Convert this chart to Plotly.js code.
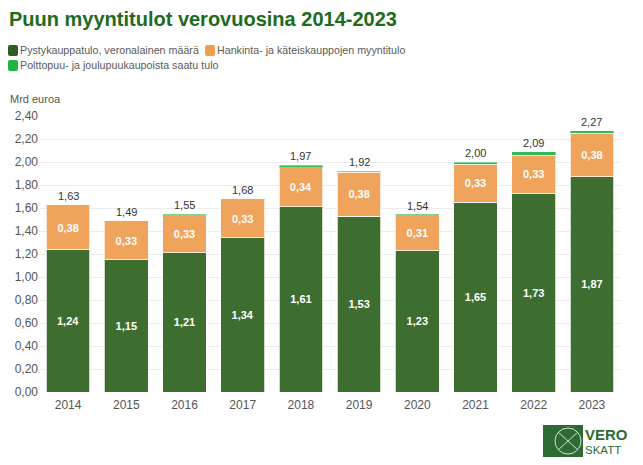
<!DOCTYPE html>
<html><head><meta charset="utf-8">
<script src="https://cdn.plot.ly/plotly-3.0.1.min.js"></script>
<style>body{margin:0;background:#fff}#c{width:643px;height:465px}</style>
</head><body><div id="c"></div><div id="err" style="position:absolute;left:60px;top:200px;color:red;font-size:10px"></div>
<script>
const years = ['2014','2015','2016','2017','2018','2019','2020','2021','2022','2023'];
const pysty = [1.24,1.15,1.21,1.34,1.61,1.53,1.23,1.65,1.73,1.87];
const hankinta = [0.38,0.33,0.33,0.33,0.34,0.38,0.31,0.33,0.33,0.38];
const polttopuu = [0.01,0.01,0.01,0.01,0.02,0.01,0.01,0.02,0.03,0.02];
const totals = [1.63,1.49,1.55,1.68,1.97,1.92,1.54,2.00,2.09,2.27];
const names = ['Pystykauppatulo, veronalainen määrä','Hankinta- ja käteiskauppojen myyntitulo','Polttopuu- ja joulupuukaupoista saatu tulo'];
const colors = ['#3d6e2f','#f0a35a','#2dbb55'];
const legendColors = ['#2f5e22','#f0a04a','#22b347'];

(function(){
try {
const W=643,H=465,L=39,R=22,T=116,B=73;
const pw=W-L-R, ph=H-T-B;
const fx=x=>(x-L)/pw, fy=y=>(H-B-y)/ph;
const idx = years.map((y,i)=>i);
const lineCol = 'rgba(255,255,255,0.75)';
const tf = {color:'#ffffff',size:11,family:'Liberation Sans, Arial'};
const fmt = v=>v.toFixed(2).replace('.',',');
const traces = [
  {type:'bar', x:idx, y:pysty, name:names[0], marker:{color:colors[0],line:{color:lineCol,width:1}},
    text:pysty.map(v=>'<b>'+fmt(v)+'</b>'), textposition:'inside', insidetextanchor:'middle',
    textfont:tf, constraintext:'none', hoverinfo:'skip'},
  {type:'bar', x:idx, y:hankinta, name:names[1], marker:{color:colors[1],line:{color:lineCol,width:1}},
    text:hankinta.map(v=>'<b>'+fmt(v)+'</b>'), textposition:'inside', insidetextanchor:'middle',
    textfont:tf, constraintext:'none', hoverinfo:'skip'},
  {type:'bar', x:idx, y:polttopuu, name:names[2], marker:{color:colors[2],line:{color:lineCol,width:0.5}}, hoverinfo:'skip'}
];

const annotations = idx.map(i=>({x:i,y:totals[i],xref:'x',yref:'y',text:fmt(totals[i]),
  showarrow:false,yanchor:'bottom',yshift:1,font:{size:11,color:'#333',family:'Liberation Sans, Arial'}}));

annotations.push({xref:'paper',yref:'paper',x:fx(7),y:fy(19),xanchor:'left',yanchor:'middle',showarrow:false,
  text:'<b>Puun myyntitulot verovuosina 2014-2023</b>',font:{size:20,color:'#1d6b1d',family:'Liberation Sans, Arial'}});
annotations.push({xref:'paper',yref:'paper',x:fx(8),y:fy(99),xanchor:'left',yanchor:'middle',showarrow:false,
  text:'Mrd euroa',font:{size:11,color:'#555',family:'Liberation Sans, Arial'}});

const legendItems = [[8,50,0],[205,50,1],[8,65,2]];
const shapes = [];
legendItems.forEach(([lx,ly,k])=>{
  shapes.push({type:'path',xref:'paper',yref:'paper',
    path:`M ${fx(lx+2)} ${fy(ly-5)} L ${fx(lx+8)} ${fy(ly-5)} Q ${fx(lx+10)} ${fy(ly-5)} ${fx(lx+10)} ${fy(ly-3)} L ${fx(lx+10)} ${fy(ly+4)} Q ${fx(lx+10)} ${fy(ly+6)} ${fx(lx+8)} ${fy(ly+6)} L ${fx(lx+2)} ${fy(ly+6)} Q ${fx(lx)} ${fy(ly+6)} ${fx(lx)} ${fy(ly+4)} L ${fx(lx)} ${fy(ly-3)} Q ${fx(lx)} ${fy(ly-5)} ${fx(lx+2)} ${fy(ly-5)} Z`,
    fillcolor:legendColors[k],line:{width:0}});
  annotations.push({xref:'paper',yref:'paper',x:fx(lx+10),y:fy(ly),xanchor:'left',yanchor:'middle',showarrow:false,
    text:names[k],font:{size:10.7,color:'#5a5a5a',family:'Liberation Sans, Arial'}});
});
// logo
shapes.push({type:'rect',xref:'paper',yref:'paper',x0:fx(543),x1:fx(583),y0:fy(457),y1:fy(425),fillcolor:'#2e6b34',line:{width:0}});
shapes.push({type:'circle',xref:'paper',yref:'paper',x0:fx(555),x1:fx(581),y0:fy(454),y1:fy(428),fillcolor:'rgba(0,0,0,0)',line:{color:'#cfe0cf',width:1}});
shapes.push({type:'line',xref:'paper',yref:'paper',x0:fx(558),x1:fx(578),y0:fy(450),y1:fy(432),line:{color:'#cfe0cf',width:1}});
shapes.push({type:'line',xref:'paper',yref:'paper',x0:fx(558),x1:fx(578),y0:fy(432),y1:fy(450),line:{color:'#cfe0cf',width:1}});
annotations.push({xref:'paper',yref:'paper',x:fx(583),y:fy(434.5),xanchor:'left',yanchor:'middle',showarrow:false,
  text:'<b>VERO</b>',font:{size:15,color:'#2e6b34',family:'Liberation Sans, Arial'}});
annotations.push({xref:'paper',yref:'paper',x:fx(583),y:fy(450),xanchor:'left',yanchor:'middle',showarrow:false,
  text:'SKATT',font:{size:11.5,color:'#2e6b34',family:'Liberation Sans, Arial'}});

const layout = {
  width:W,height:H,margin:{l:L,r:R,t:T,b:B},
  paper_bgcolor:'#fff',plot_bgcolor:'#fff',
  barmode:'stack',bargap:0.25,
  font:{family:'Liberation Sans, Arial',color:'#555'},
  showlegend:false,
  xaxis:{range:[-0.5,9.5],tickvals:idx,ticktext:years,tickfont:{size:12,color:'#555'},ticks:'',ticklabelstandoff:4,showgrid:false,zeroline:false,showline:false},
  yaxis:{range:[0,2.4],tickvals:[0,0.2,0.4,0.6,0.8,1,1.2,1.4,1.6,1.8,2,2.2,2.4],
    ticktext:['0,00','0,20','0,40','0,60','0,80','1,00','1,20','1,40','1,60','1,80','2,00','2,20','2,40'],
    tickfont:{size:12,color:'#555'},gridcolor:'#ececec',gridwidth:1,
    zeroline:false,showline:false,ticks:''},
  annotations:annotations,shapes:shapes
};
Plotly.newPlot('c',traces,layout,{staticPlot:true,displayModeBar:false}).catch(e=>{document.getElementById('err').textContent=String(e);});
} catch(e){ document.getElementById('err').textContent = String(e && e.stack || e); }
})();
</script></body></html>
